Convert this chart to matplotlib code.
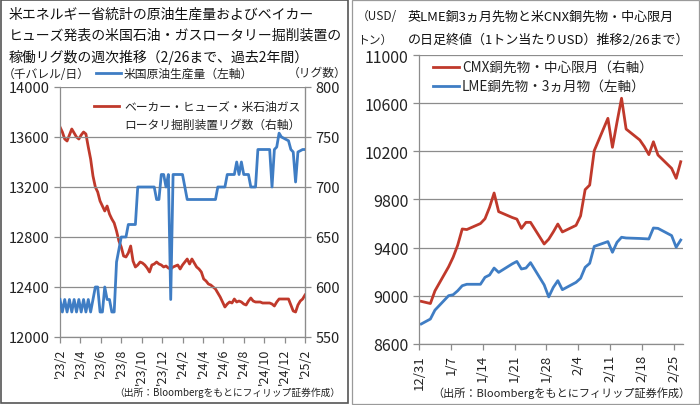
import numpy as np
import pandas as pd
import matplotlib
matplotlib.use('Agg')
import matplotlib.pyplot as plt
from matplotlib.patches import Rectangle

plt.rcParams['font.family'] = ['Noto Sans CJK JP', 'DejaVu Sans']

# ── Left chart: weekly data (approx. 2023/2 → 2025/2/26) ───────────────
oil_prod = [
    12300, 12200, 12300, 12200, 12300, 12200, 12300, 12200, 12300, 12200,
    12300, 12200, 12300, 12200, 12300, 12400, 12400, 12200, 12200, 12400,
    12300, 12300, 12200, 12200, 12600, 12700, 12800, 12800, 12800, 12900,
    12900, 12900, 12900, 13200, 13200, 13200, 13200, 13200, 13200, 13200,
    13200, 13100, 13100, 13300, 13300, 13200, 13300, 12300, 13300, 13300,
    13300, 13300, 13300, 13200, 13100, 13100, 13100, 13100, 13100, 13100,
    13100, 13100, 13100, 13100, 13100, 13100, 13100, 13200, 13200, 13200,
    13200, 13300, 13300, 13300, 13300, 13400, 13300, 13400, 13300, 13300,
    13300, 13200, 13200, 13200, 13500, 13500, 13500, 13500, 13500, 13500,
    13200, 13500, 13520, 13631, 13600, 13590, 13580, 13570, 13500, 13480,
    13240, 13480, 13490, 13500, 13500,
]
rig_count = [
    760, 755, 748, 746, 752, 758, 754, 750, 748, 752,
    755, 753, 740, 728, 711, 700, 695, 686, 681, 676,
    681, 673, 668, 664, 656, 646, 640, 631, 630, 634,
    641, 626, 620, 622, 625, 624, 622, 619, 615, 622,
    623, 625, 623, 622, 620, 621, 619, 618, 620, 621,
    622, 618, 622, 625, 628, 623, 628, 624, 620, 618,
    615, 608, 606, 603, 602, 600, 598, 594, 590, 585,
    580, 583, 585, 584, 588, 585, 586, 585, 583, 582,
    586, 589, 586, 585, 585, 585, 584, 584, 584, 584,
    583, 581, 585, 588, 588, 588, 588, 588, 582, 576,
    575, 582, 586, 588, 592,
]
left_xlabels = ["'23/2", "'23/4", "'23/6", "'23/8", "'23/10", "'23/12", "'24/2",
                "'24/4", "'24/6", "'24/8", "'24/10", "'24/12", "'25/2"]

# ── Right chart: daily closes 2024/12/31 → 2025/2/26 ───────────────────
copper_dates = [
    '2024-12-31', '2025-01-02', '2025-01-03', '2025-01-06', '2025-01-07',
    '2025-01-08', '2025-01-09', '2025-01-10', '2025-01-13', '2025-01-14',
    '2025-01-15', '2025-01-16', '2025-01-17', '2025-01-20', '2025-01-21',
    '2025-01-22', '2025-01-23', '2025-01-24', '2025-01-27', '2025-01-28',
    '2025-01-29', '2025-01-30', '2025-01-31', '2025-02-03', '2025-02-04',
    '2025-02-05', '2025-02-06', '2025-02-07', '2025-02-10', '2025-02-11',
    '2025-02-12', '2025-02-13', '2025-02-14', '2025-02-17', '2025-02-18',
    '2025-02-19', '2025-02-20', '2025-02-21', '2025-02-24', '2025-02-25',
    '2025-02-26',
]
cmx_copper = [
    8953, 8935, 9040, 9240, 9320, 9420, 9555, 9550, 9600, 9640,
    9735, 9854, 9699, 9650, 9637, 9560, 9610, 9610, 9430, 9470,
    9530, 9596, 9530, 9585, 9664, 9882, 9920, 10206, 10475, 10234,
    10443, 10642, 10386, 10295, 10240, 10173, 10280, 10170, 10059, 9976,
    10114,
]
lme_copper = [
    8765, 8806, 8880, 9000, 9008, 9041, 9083, 9095, 9095, 9153,
    9172, 9230, 9194, 9265, 9285, 9222, 9230, 9275, 9090, 8990,
    9069, 9125, 9050, 9111, 9145, 9236, 9269, 9410, 9450, 9361,
    9444, 9486, 9480, 9476, 9474, 9472, 9563, 9560, 9500, 9403,
    9463,
]
right_xticks = ['2024-12-31', '2025-01-07', '2025-01-14', '2025-01-21', '2025-01-28',
                '2025-02-04', '2025-02-11', '2025-02-18', '2025-02-25']

BLUE = '#3F7DC4'
RED = '#C0392B'
GRID = '#8C8C8C'
W, H = 700, 406


def px_axes(fig, x0, y0, x1, y1):
    # pixel box (top-left origin) -> figure axes
    return fig.add_axes([x0 / W, 1 - y1 / H, (x1 - x0) / W, (y1 - y0) / H])


def ftext(fig, x, y, s, **kw):
    fig.text(x / W, 1 - y / H, s, **kw)


def style_axis(ax):
    for side in ['left', 'bottom', 'right', 'top']:
        ax.spines[side].set_color(GRID)
        ax.spines[side].set_linewidth(0.9)
    ax.spines['top'].set_visible(False)
    ax.tick_params(color=GRID, length=4, width=0.9, colors='#222222')
    ax.grid(axis='y', color=GRID, linewidth=0.9)
    ax.set_axisbelow(True)


fig = plt.figure(figsize=(W / 100, H / 100), dpi=100)

# panel frames
fig.patches.append(Rectangle((0.5 / W, 1 - 404 / H), 347 / W, 403.5 / H, transform=fig.transFigure,
                             fill=False, edgecolor='#555555', linewidth=1.2))
fig.patches.append(Rectangle((352 / W, 1 - 405 / H), 347 / W, 404.5 / H, transform=fig.transFigure,
                             fill=False, edgecolor='#9A9A9A', linewidth=0.9))

# ── Left chart ────────────────────────────────────────────────────────
ax = px_axes(fig, 60, 88, 305, 338)
ax2 = ax.twinx()
x = np.arange(len(oil_prod))
ax.plot(x, oil_prod, color=BLUE, linewidth=2.0, zorder=3)
ax2.plot(x, rig_count, color=RED, linewidth=2.0)
ax.set_zorder(ax2.get_zorder() + 1)
ax.patch.set_visible(False)

ax.set_xlim(0, len(oil_prod) - 1)
ax.set_ylim(12000, 14000)
ax.set_yticks(np.arange(12000, 14001, 400))
ax2.set_ylim(550, 800)
ax2.set_yticks(np.arange(550, 801, 50))
ax.set_xticks(np.linspace(0, len(oil_prod) - 1, len(left_xlabels)))
ax.set_xticklabels(left_xlabels, rotation=90, fontsize=9)
style_axis(ax)
for side in ['left', 'bottom', 'right', 'top']:
    ax2.spines[side].set_visible(False)
ax2.spines['right'].set_visible(True)
ax2.spines['right'].set_color(GRID)
ax2.tick_params(color=GRID, length=4, width=0.9, colors='#222222', labelsize=10.5)
ax.tick_params(axis='y', labelsize=10.5)

for i, line in enumerate(['米エネルギー省統計の原油生産量およびベイカー',
                          'ヒューズ発表の米国石油・ガスロータリー掘削装置の',
                          '稼働リグ数の週次推移（2/26まで、過去2年間）']):
    ftext(fig, 9, 15 + i * 21, line, fontsize=10, va='center', color='#111111')
ftext(fig, 3, 74, '（千バレル/日）', fontsize=8.5, va='center', color='#222222')
ftext(fig, 288, 73, '（リグ数）', fontsize=8.5, va='center', color='#222222')
fig.lines.append(plt.Line2D([96 / W, 121 / W], [1 - 74 / H] * 2, color=BLUE, linewidth=2,
                            transform=fig.transFigure))
ftext(fig, 124, 74, '米国原油生産量（左軸）', fontsize=8.5, va='center', color='#222222')
fig.lines.append(plt.Line2D([94 / W, 119 / W], [1 - 107 / H] * 2, color=RED, linewidth=2,
                            transform=fig.transFigure))
ftext(fig, 124, 107, 'ベーカー・ヒューズ・米石油ガス', fontsize=8.5, va='center', color='#222222')
ftext(fig, 124, 125, 'ロータリ掘削装置リグ数（右軸）', fontsize=8.5, va='center', color='#222222')
ftext(fig, 340, 393, '（出所：Bloombergをもとにフィリップ証券作成）', fontsize=7, ha='right',
      va='center', color='#222222')

# ── Right chart ───────────────────────────────────────────────────────
axr = px_axes(fig, 419, 56.2, 683, 344.8)
dates = pd.to_datetime(copper_dates) + pd.Timedelta(hours=12)
axr.plot(dates, cmx_copper, color=RED, linewidth=2.0)
axr.plot(dates, lme_copper, color=BLUE, linewidth=2.0)
axr.set_xlim(pd.Timestamp('2024-12-31'), pd.Timestamp('2025-02-27'))
axr.set_ylim(8600, 11000)
axr.set_yticks(np.arange(8600, 11001, 400))
tick_dates = pd.to_datetime(right_xticks)
axr.set_xticks(tick_dates)
axr.set_xticklabels([f'{d.month}/{d.day}' for d in tick_dates], rotation=90, fontsize=9.5)
style_axis(axr)
axr.spines['right'].set_visible(False)
axr.tick_params(axis='y', labelsize=11.5)

ftext(fig, 357, 17, '（USD/', fontsize=8.5, va='center', color='#222222')
ftext(fig, 357, 40, 'トン）', fontsize=8.5, va='center', color='#222222')
ftext(fig, 408, 17, '英LME銅3ヵ月先物と米CNX銅先物・中心限月', fontsize=9.4, va='center',
      color='#111111')
ftext(fig, 408, 40, 'の日足終値（1トン当たりUSD）推移2/26まで）', fontsize=9.4, va='center',
      color='#111111')
fig.lines.append(plt.Line2D([433 / W, 459 / W], [1 - 68 / H] * 2, color=RED, linewidth=2,
                            transform=fig.transFigure))
ftext(fig, 462, 68, 'CMX銅先物・中心限月（右軸）', fontsize=9.8, va='center', color='#222222')
fig.lines.append(plt.Line2D([433 / W, 459 / W], [1 - 87 / H] * 2, color=BLUE, linewidth=2,
                            transform=fig.transFigure))
ftext(fig, 462, 87, 'LME銅先物・3ヵ月物（左軸）', fontsize=9.8, va='center', color='#222222')
ftext(fig, 690, 393, '（出所：Bloombergをもとにフィリップ証券作成）', fontsize=8, ha='right',
      va='center', color='#222222')

fig.savefig('out.png', dpi=100)
plt.close(fig)
